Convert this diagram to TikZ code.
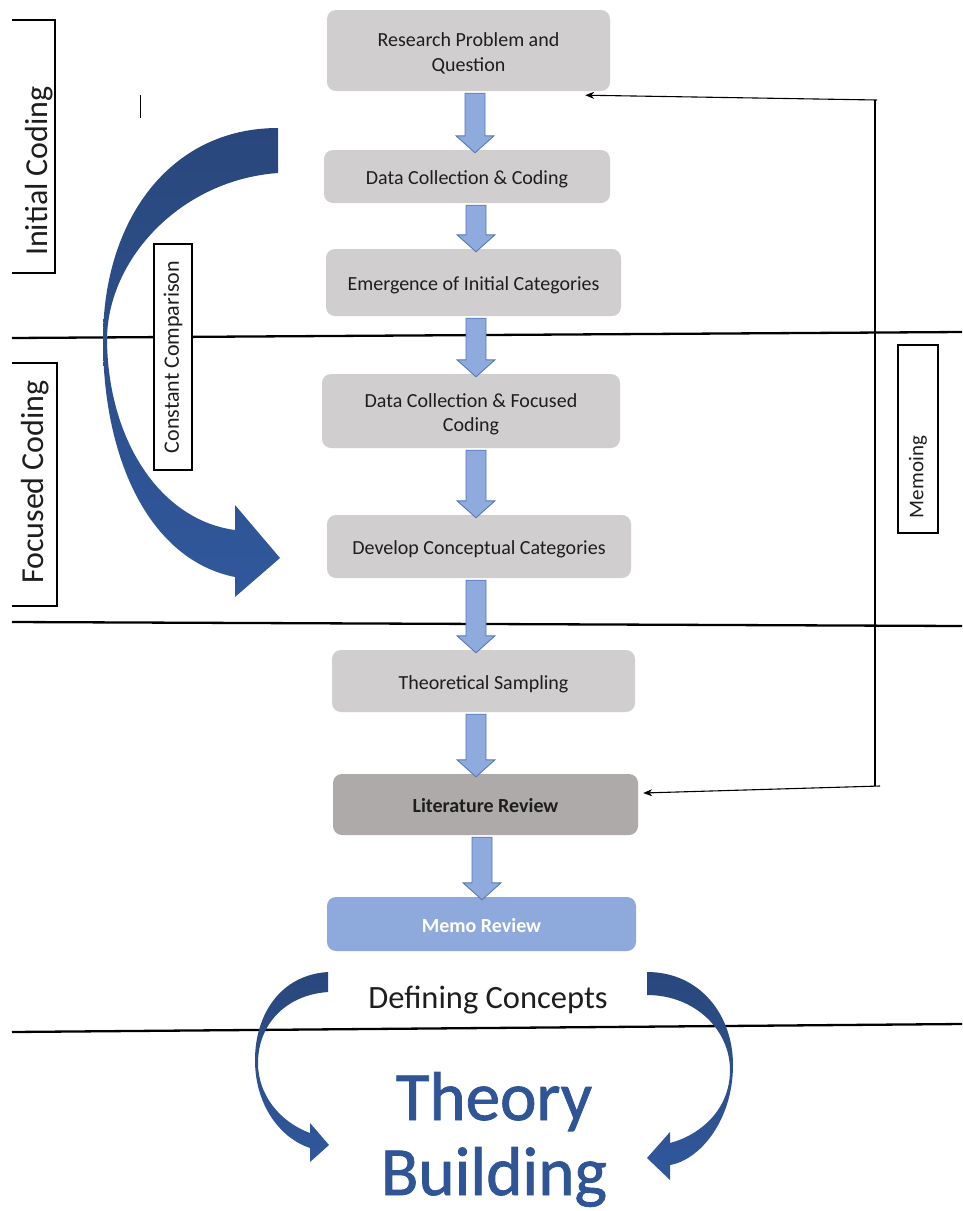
\documentclass[tikz,border=0pt]{standalone}
\usepackage{fontspec}
\setmainfont{Carlito}
\newfontfamily\theoryfont{Carlito}[FakeBold=1.2]
\usetikzlibrary{calc,arrows.meta}

\definecolor{boxgray}{RGB}{208,206,206}
\definecolor{litgray}{RGB}{174,170,170}
\definecolor{memoblue}{RGB}{142,169,219}
\definecolor{flowfill}{RGB}{143,170,220}
\definecolor{flowedge}{RGB}{84,120,186}
\definecolor{navytop}{RGB}{41,71,124}
\definecolor{navybot}{RGB}{48,88,156}
\definecolor{theoryblue}{RGB}{47,85,151}
\definecolor{ink}{RGB}{30,30,30}

% block arrow from the bottom of one step to the top of the next, centred on x = #3
\newcommand{\flowstep}[3]{%
  \filldraw[flowarrow] let \p1=(#1.south), \p2=(#2.north) in
    ({#3pt-10pt},{\y1-2pt}) -- ({#3pt+10pt},{\y1-2pt}) -- ({#3pt+10pt},{\y2+14pt})
    -- ({#3pt+19pt},{\y2+14pt}) -- ({#3pt},{\y2-3pt}) -- ({#3pt-19pt},{\y2+14pt})
    -- ({#3pt-10pt},{\y2+14pt}) -- cycle;}

\begin{document}
\begin{tikzpicture}[x=1pt,y=-1pt,
  stepbox/.style={rectangle, rounded corners=9pt, fill=boxgray, text=ink, align=center,
    inner sep=2pt, text height=16.6pt, text depth=0pt, font=\fontsize{20}{24.5}\selectfont},
  twoline/.style={text height=41.5pt, text depth=0pt},
  flowarrow/.style={fill=flowfill, draw=flowedge, line width=0.9pt, line join=miter},
  section/.style={line width=2.3pt, black},
  fbline/.style={line width=1.1pt, black},
  bracket/.style={line width=1.2pt, black},
  tag/.style={draw=black, line width=1.2pt, fill=white, rotate=90, inner sep=0pt,
    font=\fontsize{22}{26}\selectfont, text=ink},
  phase/.style={rotate=90, font=\fontsize{32}{38}\selectfont, text=ink},
  sweep/.style={top color=navytop, bottom color=navybot, draw=none},
  fbtip/.style={-{Stealth[length=9pt,width=7pt]}}]

\useasboundingbox (0,0) rectangle (962,1211);
\fill[white] (0,0) rectangle (962,1211);

% section dividers
\draw[section] (12,338) -- (962,332);
\draw[section] (12,622) -- (962,626);
\draw[section] (12,1032) -- (962,1024);

% phase labels on the left
\draw[bracket] (12,20) -- (55,20) -- (55,273) -- (12,273);
\node[phase] (initial) at (39,171) {Initial Coding};
\draw[bracket] (12,363) -- (57,363) -- (57,606) -- (12,606);
\node[phase] (focused) at (35,482) {Focused Coding};

\draw[line width=1pt] (140,95) -- (140,118);

% process steps
\node[stepbox, twoline, minimum width=283pt, minimum height=81pt] (b1) at (468.5,50.5) {Research Problem and\\Question};
\node[stepbox, minimum width=286pt, minimum height=53pt] (b2) at (467,176.5) {Data Collection \& Coding};
\node[stepbox, minimum width=295pt, minimum height=67pt] (b3) at (473.5,282.5) {Emergence of Initial Categories};
\node[stepbox, twoline, minimum width=298pt, minimum height=74pt] (b4) at (471,411) {Data Collection \& Focused\\Coding};
\node[stepbox, minimum width=304pt, minimum height=63pt] (b5) at (479,546.5) {Develop Conceptual Categories};
\node[stepbox, minimum width=303pt, minimum height=62pt] (b6) at (483.5,681) {Theoretical Sampling};
\node[stepbox, fill=litgray, minimum width=305pt, minimum height=61pt] (b7) at (485.5,804.5) {\bfseries Literature Review};
\node[stepbox, fill=memoblue, text=white, minimum width=309pt, minimum height=54pt] (b8) at (481.5,924) {\bfseries Memo Review};

% block arrows between steps
\flowstep{b1}{b2}{475}
\flowstep{b2}{b3}{476}
\flowstep{b3}{b4}{476}
\flowstep{b4}{b5}{476}
\flowstep{b5}{b6}{476}
\flowstep{b6}{b7}{476}
\flowstep{b7}{b8}{482}

% constant comparison sweep
\shade[sweep] (278,128) .. controls (170,128) and (103,220) .. (103,340)
  .. controls (103,460) and (150,560) .. (235,577)
  -- (235,597) -- (280,558) -- (235,505) -- (235,530)
  .. controls (160,520) and (108,440) .. (107,340)
  .. controls (107,260) and (180,180) .. (278,173) -- cycle;
\node[tag, minimum width=226pt, minimum height=38pt] (cc) at (173,357) {Constant Comparison};

% memoing loop
\node[draw=black, line width=1.2pt, minimum width=40pt, minimum height=188pt, inner sep=0pt] (memobox) at (918,439) {};
\node[rotate=90, font=\fontsize{21}{25}\selectfont, text=ink] (memoing) at (918,477) {Memoing};
\coordinate (fbtop) at (875,100);
\coordinate (fbbot) at (875,786);
\draw[fbline] (fbtop) -- (fbbot);
\draw[fbline, fbtip] ($(fbtop)+(2,0)$) -- ($(b1.south east)+(-25,4)$);
\draw[fbline, fbtip] ($(fbbot)+(5,0)$) -- ($(b7.east)+(5,-11.5)$);

% defining concepts and theory building
\node[font=\fontsize{32.5}{38}\selectfont, text=ink] (define) at (488,1000) {Defining Concepts};
\shade[sweep] (328,972) .. controls (280,975) and (255,1015) .. (255,1060)
  .. controls (255,1105) and (280,1138) .. (310,1148)
  -- (310,1162) -- (329,1145) -- (310,1123) -- (310,1133)
  .. controls (280,1122) and (258,1095) .. (258,1063)
  .. controls (258,1025) and (285,995) .. (328,992) -- cycle;
\shade[sweep] (647,972) .. controls (700,972) and (733,1015) .. (733,1065)
  .. controls (733,1120) and (700,1160) .. (670,1165)
  -- (670,1180) -- (647,1158) -- (670,1132) -- (670,1143)
  .. controls (700,1135) and (730,1110) .. (730,1070)
  .. controls (730,1030) and (695,995) .. (647,995) -- cycle;
\node[anchor=base, text=theoryblue, font=\theoryfont\fontsize{69}{80}\selectfont] (theory) at (494,1120) {Theory};
\node[anchor=base, text=theoryblue, font=\theoryfont\fontsize{69}{80}\selectfont] (building) at (494,1195) {Building};
\end{tikzpicture}
\end{document}
